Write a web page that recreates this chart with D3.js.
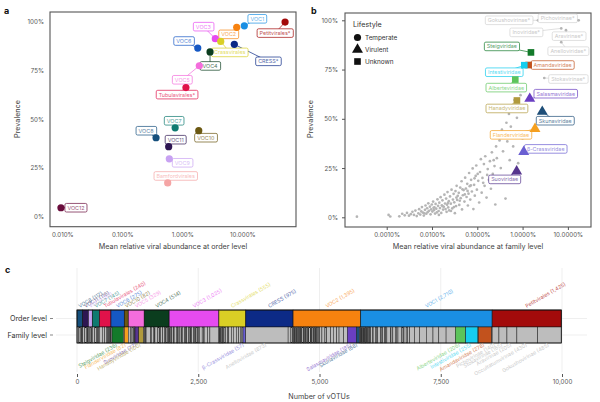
<!DOCTYPE html>
<html>
<head>
<meta charset="utf-8">
<script src="https://d3js.org/d3.v7.min.js"></script>
<style>
  body { margin: 0; background: #fff; }
  svg { font-family: Inter, "Noto Sans", sans-serif; }
  .tick text { fill: #555; font-size: 6.2px; font-family: Inter, "Noto Sans", sans-serif; }
  .axis-title { fill: #444; font-size: 7.2px; }
  .panel-letter { font-size: 9px; font-weight: bold; fill: #111; }
</style>
</head>
<body>
<script>
// ---- panel a : order level
var aNames = ["VOC1", "Petitvirales*", "VOC2", "VOC3", "Crassvirales", "CRESS*", "VOC6", "VOC4", "VOC5",
              "Tubulavirales*", "VOC7", "VOC10", "VOC8", "VOC11", "VOC9", "Bamfordvirales", "VOC12"];
var aAbund = [10.8, 51.6, 8.07, 3.55, 4.37, 7.36, 1.81, 2.9, 1.92, 1.15, 0.76, 1.88, 0.365, 0.593, 0.607, 0.571, 0.0095];
var aPrev  = [97.9, 99.8, 97.1, 91.3, 89.9, 88.4, 86.5, 84.5, 77.4, 66.2, 45.6, 44.1, 40.5, 35.9, 29.7, 17.3, 4.6];

// ---- panel b : family level
var bNames = ["Steigviridae", "Amandaviridae", "Intestiviridae", "Alberteviridae", "Hanadyviridae",
              "Salasmaviridae", "Skunaviridae", "Flanderviridae", "β-Crassviridae", "Suoviridae"];
var bAbund = [1.53, 1.36, 1.09, 0.69, 0.75, 1.44, 2.72, 1.88, 1.06, 0.74];
var bPrev  = [83.7, 77.3, 77.2, 69.9, 59.3, 60.2, 53.6, 44.9, 33.2, 23.3];
var bLife  = ["Unknown", "Unknown", "Unknown", "Unknown", "Unknown",
              "Virulent", "Virulent", "Virulent", "Virulent", "Virulent"];
var bGreyNames = ["Gokushovirinae*", "Pichovirinae*", "Inoviridae*", "Aravirinae*", "Anelloviridae*", "Stokavirinae*"];
var bGreyAbund = [2.19, 17.3, 7.14, 9.08, 7.14, 3.01];
var bGreyPrev  = [100, 100, 95.9, 95, 88.9, 70.7];
// other families (abundance %, prevalence %)
var bOther = [
  [0.00022, 0.3], [0.0011, 1.2], [0.0012, 0.4], [0.0019, 0.5], [0.0022, 1.8], [0.0025, 1.0], [0.0028, 2.2],
  [0.0031, 0.8], [0.0034, 1.6], [0.0037, 2.8], [0.004, 1.2], [0.0043, 3.4], [0.0046, 0.6], [0.005, 2.0],
  [0.0052, 4.1], [0.0055, 1.4], [0.0058, 3.0], [0.006, 5.2], [0.0063, 2.4], [0.0066, 0.9], [0.007, 3.8],
  [0.0072, 6.0], [0.0075, 1.8], [0.0078, 4.6], [0.008, 2.6], [0.0083, 7.1], [0.0086, 3.3], [0.009, 5.4],
  [0.0093, 1.5], [0.0096, 4.0], [0.0099, 6.5], [0.0102, 2.9], [0.0106, 8.0], [0.011, 3.6], [0.0113, 5.0],
  [0.0117, 1.9], [0.012, 6.8], [0.0124, 4.4], [0.0128, 2.5], [0.0132, 9.1], [0.0136, 5.8], [0.014, 3.2],
  [0.0145, 7.4], [0.015, 4.7], [0.0155, 10.2], [0.016, 2.2], [0.0165, 6.1], [0.017, 8.6], [0.0176, 3.9],
  [0.0182, 5.3], [0.0188, 11.5], [0.0194, 7.0], [0.0199, 4.2], [0.0205, 9.5], [0.021, 2.8], [0.0215, 6.4],
  [0.022, 12.8], [0.0228, 5.0], [0.0235, 8.2], [0.024, 3.5], [0.025, 10.6], [0.026, 6.9], [0.027, 14.0],
  [0.028, 4.5], [0.029, 9.0], [0.03, 11.9], [0.031, 7.6], [0.032, 2.1], [0.033, 13.3], [0.034, 5.7],
  [0.035, 16.0], [0.036, 8.8], [0.037, 10.9], [0.039, 12.4], [0.04, 6.3], [0.042, 15.1], [0.043, 9.7],
  [0.045, 18.3], [0.046, 4.0], [0.048, 11.2], [0.05, 13.8], [0.052, 8.0], [0.054, 20.1], [0.056, 14.6],
  [0.058, 10.3], [0.06, 17.0], [0.062, 6.0], [0.064, 12.0], [0.066, 22.5], [0.068, 15.8], [0.07, 9.0],
  [0.073, 19.0], [0.076, 13.1], [0.079, 24.8], [0.082, 4.2], [0.085, 16.5], [0.088, 11.0], [0.092, 21.0],
  [0.095, 26.3], [0.098, 14.0], [0.105, 18.5], [0.11, 7.5], [0.115, 23.0], [0.12, 29.5], [0.125, 12.5],
  [0.13, 20.0], [0.14, 27.0], [0.145, 16.0], [0.15, 31.0], [0.16, 10.0], [0.17, 24.5], [0.18, 19.0],
  [0.19, 28.5], [0.2, 14.5], [0.21, 33.0], [0.22, 22.0], [0.24, 26.0], [0.25, 6.5], [0.26, 36.0],
  [0.27, 30.0], [0.29, 18.0], [0.31, 39.0], [0.33, 25.0], [0.35, 44.5], [0.37, 33.5], [0.4, 41.0],
  [0.42, 9.5], [0.44, 48.0], [0.46, 38.5], [0.5, 52.5], [0.52, 29.0], [0.55, 46.0], [0.58, 56.0],
  [0.6, 19.0], [0.62, 36.0], [0.66, 59.5], [0.7, 43.0], [0.75, 50.5], [0.8, 27.5], [0.9, 62.0], [1.0, 40.0],
  [0.0068, 2.0], [0.0108, 4.8], [0.0142, 1.2], [0.0172, 5.6], [0.0225, 7.2], [0.0262, 3.2], [0.0305, 5.2],
  [0.0345, 10.0], [0.041, 8.4], [0.047, 14.2], [0.053, 11.6], [0.061, 13.4], [0.072, 16.2], [0.087, 19.8],
  [0.102, 22.0], [0.135, 17.5], [0.165, 21.5], [0.23, 29.0]
];

// ---- panel c : number of vOTUs per order, split into families
var orderNames = ["VOC8", "VOC11", "VOC9", "VOC7", "Tubulavirales", "VOC6", "VOC10", "VOC5", "VOC4",
                  "VOC3", "Crassvirales", "CRESS", "VOC2", "VOC1", "Petitvirales"];
// plain numbers = unlabelled families, [name, n] = labelled families
var familySplits = [
  [38, 27, 21, 14, 10, 7],
  [44, 31, 19, 12, 10],
  [33, 24, 15, 10],
  [52, 36, 25, 18, 14],
  [62, 48, 35, 28, 22, 17, 12, 9, 7],
  [22, ["Steigviridae", 236], 17],
  [["Flanderviridae", 82]],
  [45, 32, 24, 18, 12, 8, ["Suoviridae", 77], ["Hanadyviridae", 100], 13],
  [18, 12, 9, 95, 14, 40, 22, 11, 60, 28, 16, 9, 48, 35, 20, 13, 30, 25, 9],
  [14, 9, 22, 7, 31, 12, 8, 45, 19, 10, 26, 6, 38, 15, 9, 52, 21, 11, 7, 34, 17, 28, 9, 13, 43, 24, 8, 16,
   36, 11, 20, 60, 27, 14, 70, 48, 185],
  [8, 12, 6, 15, 9, 21, 7, 11, 18, 30, 42, 25, 55, 38, 64, 47, 33, 35, 22, ["β-Crassviridae", 57]],
  [["Anelloviridae", 873], 58, 28, 16],
  [9, 14, 6, 11, 20, 8, 13, 7, 17, 10, 24, 6, 12, 9, 15, 28, 8, 11, 19, 7, 13, 22, 10, 16, 9, 30, 12, 18,
   8, 25, 14, 11, 21, 9, 16, 12, 20, 30, 45, 62, 38, 80, 55, 70, 48, 96, 76,
   ["Salasmaviridae", 185], ["Skunaviridae", 68], 22],
  [7, 12, 5, 9, 16, 6, 10, 8, 14, 5, 11, 20, 7, 9, 13, 6, 18, 9,
   22, 35, 14, 48, 19, 27, 60, 12, 31, 44, 17, 25, 70, 15, 38, 52, 21, 33, 80, 26, 18, 45, 29, 44,
   100, 105, 140, 135, 120, 150, 192,
   ["Alberteviridae", 206], 4, ["Intestiviridae", 255], 6, ["Amandaviridae", 278], 9],
  [["Pichovirinae", 140], ["Stokavirinae", 165], ["Aravirinae", 205], ["Occultatumvirinae", 430], ["Gokushovirinae", 485]]
];
var cTicks = [0, 2500, 5000, 7500, 10000];

// ---- colours
var orderColor = {
  "VOC1": "#1a8fe3", "VOC2": "#f7820f", "VOC3": "#e64bf0", "VOC4": "#0b3d1e", "VOC5": "#f46ddc",
  "VOC6": "#1558c4", "VOC7": "#0f7a70", "VOC8": "#154f7c", "VOC9": "#c8a2f2", "VOC10": "#6b5812",
  "VOC11": "#2e1652", "VOC12": "#6a0d3c", "Crassvirales": "#d9cf25", "CRESS": "#0c2a86", "CRESS*": "#0c2a86",
  "Petitvirales": "#a30b0b", "Petitvirales*": "#a30b0b", "Tubulavirales": "#e0124a",
  "Tubulavirales*": "#e0124a", "Bamfordvirales": "#f5a5a5"
};
var familyColor = {
  "Steigviridae": "#137a2a", "Amandaviridae": "#c2521d", "Intestiviridae": "#16cdee",
  "Alberteviridae": "#5cc45a", "Hanadyviridae": "#b09a3c", "Salasmaviridae": "#6a3fc2",
  "Skunaviridae": "#1e4e78", "Flanderviridae": "#f59f1e", "β-Crassviridae": "#6a5fd2",
  "Suoviridae": "#56358e"
};
var greyFill = "#bdbdbd", greyText = "#cacaca";

// label offsets (layout only)
var aLabelOff = {
  "VOC1": [13, -7], "Petitvirales*": [-10, 11], "VOC2": [-8, 7], "VOC3": [-12, -12], "Crassvirales": [9, 11],
  "CRESS*": [34, 17], "VOC6": [-14, -7], "VOC4": [0, 14], "VOC5": [-17, 14], "Tubulavirales*": [-9, 7],
  "VOC7": [-1, -7], "VOC10": [7, 7], "VOC8": [-10, -7], "VOC11": [7, -7], "VOC9": [13, 4],
  "Bamfordvirales": [8, -7], "VOC12": [15, 0]
};
var bLabelOff = {
  "Steigviridae": [-29, -6], "Amandaviridae": [24, 0], "Intestiviridae": [-20, 7], "Alberteviridae": [-9, 8],
  "Hanadyviridae": [-10, 8], "Salasmaviridae": [26, -5], "Skunaviridae": [13, 9], "Flanderviridae": [-24, 6],
  "β-Crassviridae": [22, -3], "Suoviridae": [-12, 8],
  "Gokushovirinae*": [-29, 0], "Pichovirinae*": [-21, -2], "Inoviridae*": [-35, 4], "Aravirinae*": [3, 6],
  "Anelloviridae*": [7, 9], "Stokavirinae*": [24, 1]
};

var svg = d3.select("body").append("svg").attr("width", 600).attr("height", 402);

function labelBox(g, x, y, text, color, textColor) {
  var lg = g.append("g");
  var rect = lg.append("rect");
  var t = lg.append("text")
    .attr("x", x).attr("y", y)
    .attr("text-anchor", "middle")
    .attr("dominant-baseline", "central")
    .style("font-size", "5.4px")
    .attr("fill", textColor || color)
    .text(text);
  var bb = t.node().getBBox();
  rect.attr("x", bb.x - 2.5).attr("y", y - 4.3)
    .attr("width", bb.width + 5).attr("height", 8.6)
    .attr("rx", 1.5)
    .attr("fill", "#fff")
    .attr("stroke", color)
    .attr("stroke-width", 0.7);
}
function pastel(c) { return d3.interpolateRgb(c, "#fff")(0.3); }

// ================= panel a
var ax = d3.scaleLog().domain([0.00624, 78.5]).range([50, 296]);
var ay = d3.scaleLinear().domain([0, 100]).range([216.7, 21.7]);
var ga = svg.append("g");

ga.append("g").attr("transform", "translate(50,0)")
  .call(d3.axisLeft(ay).tickValues([0, 25, 50, 75, 100]).tickFormat(function(d) { return d + "%"; }).tickSize(0).tickPadding(6))
  .call(function(g) { g.select(".domain").remove(); });
ga.append("g").attr("transform", "translate(0,226.7)")
  .call(d3.axisBottom(ax).tickValues([0.01, 0.1, 1, 10]).tickFormat(function(d) { return d3.format(".3f")(d) + "%"; }).tickSize(0).tickPadding(6))
  .call(function(g) { g.select(".domain").remove(); });
ga.append("rect").attr("x", 50).attr("y", 12).attr("width", 246).attr("height", 214.7)
  .attr("fill", "none").attr("stroke", "#555").attr("stroke-width", 1.1);

aNames.forEach(function(n, i) {
  var px = ax(aAbund[i]), py = ay(aPrev[i]), o = aLabelOff[n];
  ga.append("line").attr("x1", px).attr("y1", py).attr("x2", px + o[0]).attr("y2", py + o[1])
    .attr("stroke", orderColor[n]).attr("stroke-width", 0.7);
});
aNames.forEach(function(n, i) {
  var o = aLabelOff[n];
  labelBox(ga, ax(aAbund[i]) + o[0], ay(aPrev[i]) + o[1], n, orderColor[n], pastel(orderColor[n]));
});
ga.selectAll("circle.pt").data(aNames).join("circle").attr("class", "pt")
  .attr("cx", function(d, i) { return ax(aAbund[i]); })
  .attr("cy", function(d, i) { return ay(aPrev[i]); })
  .attr("r", 3.6)
  .attr("fill", function(d) { return orderColor[d]; });

ga.append("text").attr("class", "axis-title").attr("text-anchor", "middle")
  .attr("transform", "translate(20,119) rotate(-90)").text("Prevalence");
ga.append("text").attr("class", "axis-title").attr("text-anchor", "middle")
  .attr("x", 173).attr("y", 249).text("Mean relative viral abundance at order level");
svg.append("text").attr("class", "panel-letter").attr("x", 4).attr("y", 14).text("a");

// ================= panel b
var bx = d3.scaleLog().domain([0.000120, 32.4]).range([345, 591]);
var by = d3.scaleLinear().domain([0, 100]).range([217.3, 20.3]);
var gb = svg.append("g");

gb.append("g").attr("transform", "translate(345,0)")
  .call(d3.axisLeft(by).tickValues([0, 25, 50, 75, 100]).tickFormat(function(d) { return d + "%"; }).tickSize(3).tickPadding(4))
  .call(function(g) { g.select(".domain").remove(); g.selectAll("line").attr("stroke", "#555"); });
gb.append("g").attr("transform", "translate(0,227)")
  .call(d3.axisBottom(bx).tickValues([0.001, 0.01, 0.1, 1, 10]).tickFormat(function(d) { return d3.format(".4f")(d) + "%"; }).tickSize(3).tickPadding(3))
  .call(function(g) { g.select(".domain").remove(); g.selectAll("line").attr("stroke", "#555"); });
gb.append("rect").attr("x", 345).attr("y", 13).attr("width", 246).attr("height", 214)
  .attr("fill", "none").attr("stroke", "#555").attr("stroke-width", 1.1);

gb.selectAll("circle.other").data(bOther).join("circle").attr("class", "other")
  .attr("cx", function(d) { return bx(d[0]); })
  .attr("cy", function(d) { return by(d[1]); })
  .attr("r", 1.35).attr("fill", "#b5b5b5");

bGreyNames.forEach(function(n, i) {
  var px = bx(bGreyAbund[i]), py = by(bGreyPrev[i]), o = bLabelOff[n];
  gb.append("line").attr("x1", px).attr("y1", py).attr("x2", px + o[0]).attr("y2", py + o[1])
    .attr("stroke", "#d2d2d2").attr("stroke-width", 0.7);
  labelBox(gb, px + o[0], py + o[1], n, "#d2d2d2", greyText);
  gb.append("circle").attr("cx", px).attr("cy", py).attr("r", 1.35).attr("fill", "#b5b5b5");
});

bNames.forEach(function(n, i) {
  var px = bx(bAbund[i]), py = by(bPrev[i]), o = bLabelOff[n];
  gb.append("line").attr("x1", px).attr("y1", py).attr("x2", px + o[0]).attr("y2", py + o[1])
    .attr("stroke", familyColor[n]).attr("stroke-width", 0.7);
});
bNames.forEach(function(n, i) {
  var o = bLabelOff[n];
  labelBox(gb, bx(bAbund[i]) + o[0], by(bPrev[i]) + o[1], n, familyColor[n], pastel(familyColor[n]));
});
var shape = { "Temperate": d3.symbolCircle, "Virulent": d3.symbolTriangle, "Unknown": d3.symbolSquare };
var shapeSize = { "Temperate": 40, "Virulent": 52, "Unknown": 44 };
bNames.forEach(function(n, i) {
  gb.append("path")
    .attr("transform", "translate(" + bx(bAbund[i]) + "," + by(bPrev[i]) + ")")
    .attr("d", d3.symbol().type(shape[bLife[i]]).size(shapeSize[bLife[i]])())
    .attr("fill", familyColor[n]);
});

// legend
var lg = gb.append("g");
lg.append("text").attr("x", 353).attr("y", 26.5).style("font-size", "7.2px").attr("fill", "#333").text("Lifestyle");
["Temperate", "Virulent", "Unknown"].forEach(function(k, i) {
  var yy = 37.5 + i * 12;
  lg.append("path").attr("transform", "translate(357.5," + yy + ")")
    .attr("d", d3.symbol().type(shape[k]).size(shapeSize[k])()).attr("fill", "#111");
  lg.append("text").attr("x", 365).attr("y", yy).attr("dominant-baseline", "central")
    .style("font-size", "6.4px").attr("fill", "#333").text(k);
});

gb.append("text").attr("class", "axis-title").attr("text-anchor", "middle")
  .attr("transform", "translate(313,119) rotate(-90)").text("Prevalence");
gb.append("text").attr("class", "axis-title").attr("text-anchor", "middle")
  .attr("x", 468).attr("y", 249).text("Mean relative viral abundance at family level");
svg.append("text").attr("class", "panel-letter").attr("x", 311).attr("y", 14).text("b");

// ================= panel c
var orderSegs = [], famSegs = [], cum = 0;
orderNames.forEach(function(o, i) {
  var start = cum;
  familySplits[i].forEach(function(f) {
    var named = Array.isArray(f);
    var n = named ? f[1] : f;
    famSegs.push({ order: o, name: named ? f[0] : null, n: n, start: cum });
    cum += n;
  });
  orderSegs.push({ name: o, n: cum - start, start: start });
});

var cx = d3.scaleLinear().domain([0, 10000]).range([77, 562]);
var gc = svg.append("g");
var fmt = d3.format(",");
var oy = 310, oh = 17, fy = 327, fh = 16;

gc.selectAll("line.vgrid").data(cTicks).join("line").attr("class", "vgrid")
  .attr("x1", function(d) { return cx(d); }).attr("x2", function(d) { return cx(d); })
  .attr("y1", 268).attr("y2", 372).attr("stroke", "#e8e8e8").attr("stroke-width", 0.7);
[oy + oh / 2, fy + fh / 2].forEach(function(yy) {
  gc.append("line").attr("x1", 56).attr("x2", 587).attr("y1", yy).attr("y2", yy)
    .attr("stroke", "#e8e8e8").attr("stroke-width", 0.7);
});

gc.append("g").attr("transform", "translate(0,374)")
  .call(d3.axisBottom(cx).tickValues(cTicks).tickFormat(fmt).tickSize(3).tickPadding(3))
  .call(function(g) { g.select(".domain").remove(); g.selectAll("line").attr("stroke", "#555"); });

gc.selectAll("rect.ord").data(orderSegs).join("rect").attr("class", "ord")
  .attr("x", function(d) { return cx(d.start); })
  .attr("width", function(d) { return cx(d.start + d.n) - cx(d.start); })
  .attr("y", oy).attr("height", oh)
  .attr("fill", function(d) { return orderColor[d.name]; })
  .attr("stroke", "#111").attr("stroke-width", 0.6);

gc.selectAll("rect.fam").data(famSegs).join("rect").attr("class", "fam")
  .attr("x", function(d) { return cx(d.start); })
  .attr("width", function(d) { return cx(d.start + d.n) - cx(d.start); })
  .attr("y", fy).attr("height", fh)
  .attr("fill", function(d) { return (d.name && familyColor[d.name]) || greyFill; })
  .attr("stroke", "#111").attr("stroke-width", 0.45);

gc.append("rect").attr("x", cx(0)).attr("y", oy).attr("width", cx(cum) - cx(0)).attr("height", oh + fh)
  .attr("fill", "none").attr("stroke", "#111").attr("stroke-width", 0.8);

gc.selectAll("text.olab").data(orderSegs).join("text").attr("class", "olab")
  .attr("transform", function(d) { return "translate(" + cx(d.start + d.n / 2) + "," + (oy - 2) + ") rotate(-30)"; })
  .style("font-size", "5.2px")
  .attr("fill", function(d) { return pastel(orderColor[d.name]); })
  .text(function(d) { return d.name + " (" + fmt(d.n) + ")"; });

gc.selectAll("text.flab").data(famSegs.filter(function(d) { return d.name; })).join("text").attr("class", "flab")
  .attr("transform", function(d) { return "translate(" + cx(d.start + d.n / 2) + "," + (fy + fh + 3) + ") rotate(-30)"; })
  .attr("text-anchor", "end")
  .style("font-size", "5.2px")
  .attr("fill", function(d) { return familyColor[d.name] ? pastel(familyColor[d.name]) : greyText; })
  .text(function(d) { return d.name + " (" + fmt(d.n) + ")"; });

gc.append("text").attr("x", 47).attr("y", oy + oh / 2).attr("text-anchor", "end").attr("dominant-baseline", "central")
  .style("font-size", "7.2px").attr("fill", "#333").text("Order level");
gc.append("text").attr("x", 47).attr("y", fy + fh / 2).attr("text-anchor", "end").attr("dominant-baseline", "central")
  .style("font-size", "7.2px").attr("fill", "#333").text("Family level");
[oy + oh / 2, fy + fh / 2].forEach(function(yy) {
  gc.append("line").attr("x1", 50).attr("x2", 53).attr("y1", yy).attr("y2", yy).attr("stroke", "#555").attr("stroke-width", 0.7);
});

gc.append("text").attr("class", "axis-title").attr("text-anchor", "middle")
  .attr("x", 319).attr("y", 399).text("Number of vOTUs");
svg.append("text").attr("class", "panel-letter").attr("x", 5).attr("y", 273).text("c");
</script>
</body>
</html>
